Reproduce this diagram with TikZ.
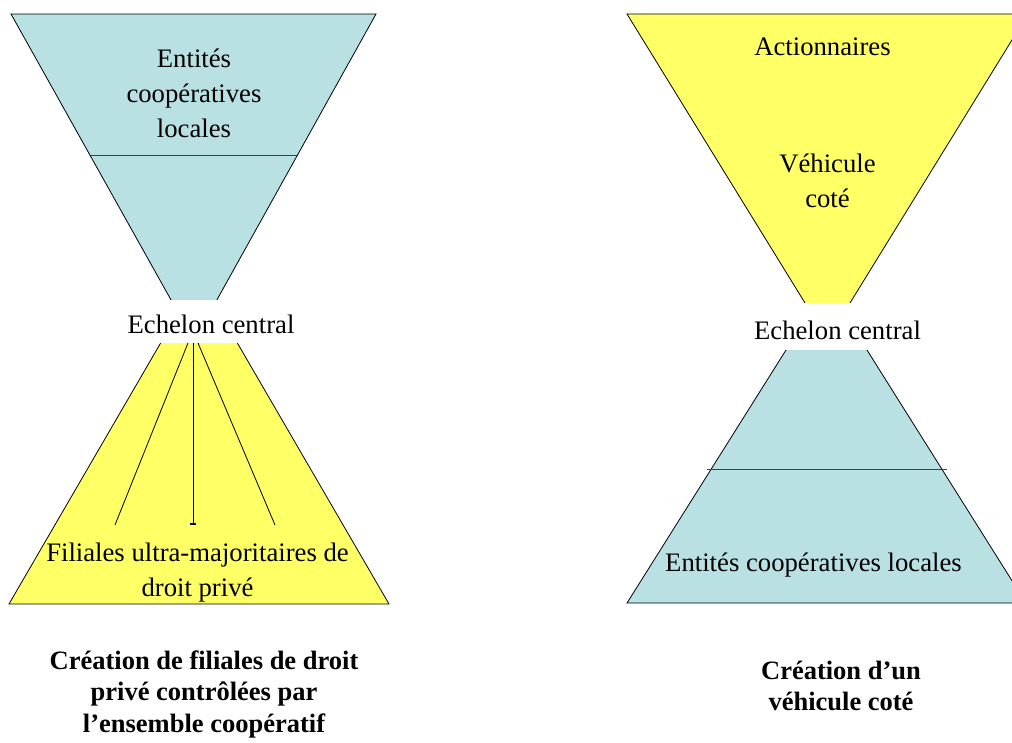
\documentclass[tikz,border=0pt]{standalone}
\usepackage{fontspec}
\setmainfont{Liberation Serif}
\definecolor{cblue}{RGB}{185,224,227}
\definecolor{cyel}{RGB}{255,255,102}
\begin{document}
\begin{tikzpicture}[x=1pt,y=-1pt,
  tri/.style={draw=black,line width=0.8pt},
  divider/.style={draw=black!75,line width=1pt},
  lbl/.style={align=center,inner sep=0pt,font=\fontsize{26.7}{35}\selectfont},
  patch/.style={fill=white},
  captxt/.style={align=center,inner sep=0pt,font=\bfseries\fontsize{26.5}{31.5}\selectfont},
  branch/.style={draw=black,line width=0.8pt}]
\useasboundingbox (0,0) rectangle (1012,742);
\clip (0,0) rectangle (1012,742);
% left: bottom yellow triangle
\filldraw[tri,fill=cyel] (199,277) -- (389,604) -- (9,604) -- cycle;
% left: top blue inverted triangle
\filldraw[tri,fill=cblue] (11,14) -- (376,14) -- (194,341) -- cycle;
\draw[divider] (91,155) -- (297,155);
% left white patch behind Echelon label
\fill[patch] (121,300) rectangle (301,343);
\node[lbl] (echL) at (211,324.5) {Echelon central};
% branches
\coordinate (h1) at (188,343);
\coordinate (h2) at (193,343);
\coordinate (h3) at (198,343);
\coordinate (b1) at (115,525);
\coordinate (b2) at (193,524);
\coordinate (b3) at (275,525);
\coordinate (t1) at (190,524);
\coordinate (t2) at (196,524);
\draw[branch] (h1) -- (b1);
\draw[branch] (h2) -- (b2);
\draw[branch] (h3) -- (b3);
\draw[draw=black,line width=1.5pt] (t1) -- (t2);
\node[lbl] (ent1) at (194,93) {Entités\\coopératives\\locales};
\node[lbl] (fil) at (197.5,573) {Filiales ultra-majoritaires de\\droit privé};
% right: bottom blue triangle
\filldraw[tri,fill=cblue] (826.5,285.6) -- (1026,603) -- (627,603) -- cycle;
\draw[divider] (707,469) -- (947,469);
% right: top yellow inverted triangle
\filldraw[tri,fill=cyel] (627,14) -- (1028,14) -- (827.5,339.5) -- cycle;
% right white patch behind Echelon label
\fill[patch] (747,303) rectangle (928,350);
\node[lbl] (echR) at (837.5,330) {Echelon central};
\node[lbl] (act) at (822.5,47) {Actionnaires};
\node[lbl] (veh) at (827.5,181) {Véhicule\\coté};
\node[lbl] (ent2) at (813.5,565) {Entités coopératives locales};
% captions
\node[captxt] (capL) at (204,694) {Création de filiales de droit\\privé contrôlées par\\l’ensemble coopératif};
\node[captxt] (capR) at (841,686) {Création d’un\\véhicule coté};
\end{tikzpicture}
\end{document}
